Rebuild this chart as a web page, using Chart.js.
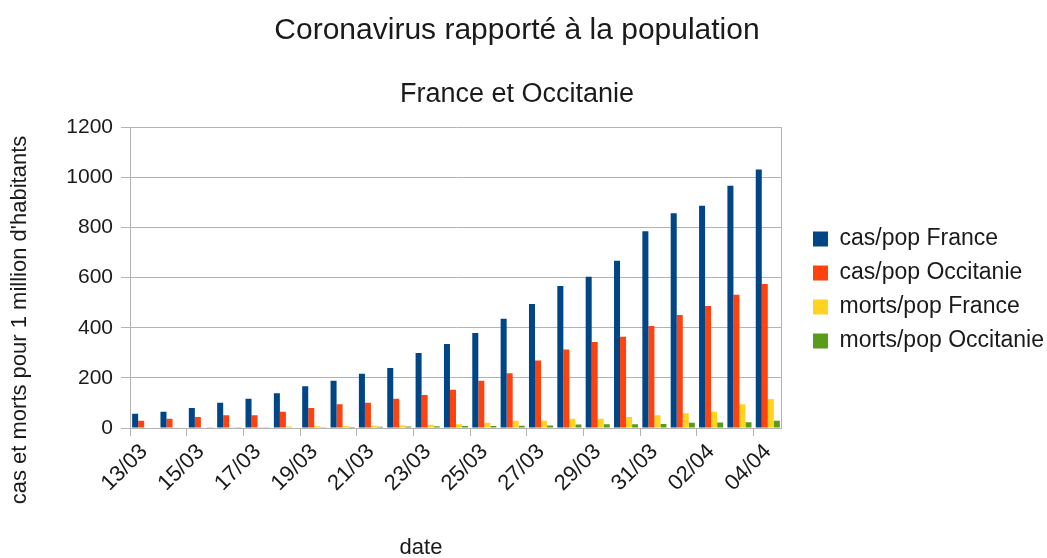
<!DOCTYPE html>
<html>
<head>
<meta charset="utf-8">
<script src="https://cdn.jsdelivr.net/npm/chart.js@4/dist/chart.umd.min.js"></script>
<style>
  html, body { margin: 0; padding: 0; background: #fff; }
  #wrap { width: 1047px; height: 558px; position: relative; }
</style>
</head>
<body>
<div id="wrap"><canvas id="myChart"></canvas></div>
<script>
// dates (one bar group per day)
const dates = ["13/03","14/03","15/03","16/03","17/03","18/03","19/03","20/03","21/03","22/03","23/03","24/03",
  "25/03","26/03","27/03","28/03","29/03","30/03","31/03","01/04","02/04","03/04","04/04"];

// values per 1 million inhabitants
const casFrance = [57,65,80,101,117,139,167,189,217,240,299,335,379,436,495,567,604,668,785,857,887,967,1032];
const casOccitanie = [29,37,44,51,51,65,80,95,101,117,132,153,189,219,269,313,343,364,407,451,487,532,575];
const mortsFrance = [0,1,2,3,4,6,7,8,9,10,13,15,21,29,29,37,37,44,51,59,65,95,116];
const mortsOccitanie = [0,0,1,1,1,2,3,4,5,6,7,8,8,9,10,14,15,15,16,21,22,23,29];

const seriesNames = ["cas/pop France","cas/pop Occitanie","morts/pop France","morts/pop Occitanie"];
const seriesColors = ["#004586","#ff420e","#ffd320","#579d1c"];
const yTicks = [0, 200, 400, 600, 800, 1000, 1200];

const xTitle = "date";
const yTitle = "cas et morts pour 1 million d'habitants";

const FONT = "'Liberation Sans', Arial, sans-serif";
const gridGray = "#b3b3b3";
const textColor = "#1a1a1a";

// move the legend a bit away from the plot (gap between plot and legend)
const legendShift = {
  id: "legendShift",
  afterLayout(chart) {
    const lg = chart.legend;
    const dx = 20, dy = 11;
    lg.left += dx; lg.right += dx;
    lg.top += dy; lg.bottom += dy;
  }
};

// axis titles, centred like the spreadsheet does it (on the whole diagram, not on the plot)
const axisTitles = {
  id: "axisTitles",
  afterDraw(chart) {
    const ctx = chart.ctx;
    ctx.save();
    ctx.fillStyle = textColor;
    ctx.font = "22px " + FONT;
    ctx.textAlign = "center";
    ctx.textBaseline = "middle";
    ctx.fillText(xTitle, 421, 548);
    ctx.translate(20, 320);
    ctx.rotate(-Math.PI / 2);
    ctx.fillText(yTitle, 0, 0);
    ctx.restore();
  }
};

const allSeries = [casFrance, casOccitanie, mortsFrance, mortsOccitanie];
const datasets = allSeries.map(function (vals, i) {
  return {
    label: seriesNames[i],
    data: vals,
    backgroundColor: seriesColors[i],
    borderWidth: 0,
    categoryPercentage: 0.85,
    barPercentage: 1.0
  };
});

const myChart = new Chart("myChart", {
  type: "bar",
  data: { labels: dates, datasets: datasets },
  plugins: [legendShift, axisTitles],
  options: {
    responsive: true,
    maintainAspectRatio: false,
    animation: false,
    layout: { padding: { left: 0, right: 13, top: 0, bottom: 0 } },
    plugins: {
      title: {
        display: true,
        text: "Coronavirus rapporté à la population",
        color: textColor,
        font: { family: FONT, size: 30, weight: "normal" },
        padding: { top: 13, bottom: 29 }
      },
      subtitle: {
        display: true,
        text: "France et Occitanie",
        color: textColor,
        font: { family: FONT, size: 27, weight: "normal" },
        padding: { top: 0, bottom: 17 }
      },
      legend: {
        position: "right",
        labels: {
          color: textColor,
          font: { family: FONT, size: 23 },
          boxWidth: 15,
          boxHeight: 15,
          padding: 11
        }
      },
      tooltip: { enabled: false }
    },
    scales: {
      x: {
        border: { display: true, color: gridGray },
        grid: {
          offset: true,
          drawOnChartArea: true,
          tickLength: 8,
          // only the right edge line inside the plot (frame)
          color: function (ctx) {
            return ctx.index === undefined ? gridGray : "rgba(0,0,0,0)";
          },
          tickColor: function (ctx) {
            return ctx.index !== undefined && ctx.index % 2 === 0 ? gridGray : "rgba(0,0,0,0)";
          }
        },
        ticks: {
          autoSkip: false,
          maxRotation: 45,
          minRotation: 45,
          color: textColor,
          font: { family: FONT, size: 22 },
          callback: function (value, index) {
            return index % 2 === 0 ? this.getLabelForValue(value) : "";
          }
        },
        afterFit: function (scale) { scale.height = 130; }
      },
      y: {
        min: yTicks[0],
        max: yTicks[yTicks.length - 1],
        border: { display: true, color: gridGray },
        grid: { color: gridGray, tickLength: 9 },
        afterBuildTicks: function (scale) {
          scale.ticks = yTicks.map(function (v) { return { value: v }; });
        },
        ticks: {
          color: textColor,
          padding: 8,
          font: { family: FONT, size: 21 },
          callback: function (value) { return String(value); }
        },
        afterFit: function (scale) { scale.width = 130; }
      }
    }
  }
});
</script>
</body>
</html>
